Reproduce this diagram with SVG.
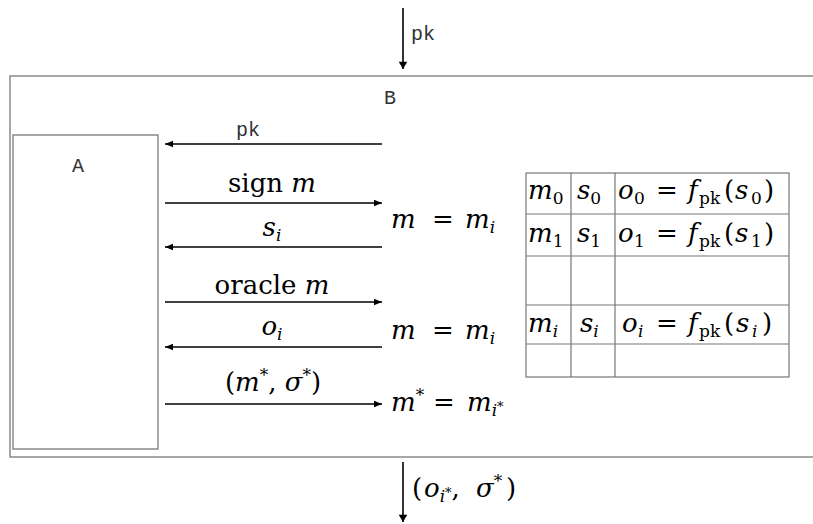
<svg xmlns="http://www.w3.org/2000/svg" width="813" height="524" viewBox="0 0 813 524">
<style>
.box{fill:none;stroke:#8a8a8a;stroke-width:1.5}
.grid{stroke:#777;stroke-width:1.2;fill:none}
.arr{stroke:#000;stroke-width:1.6;fill:none}
.mono{font-family:"Liberation Mono","Courier New",monospace;font-size:20px;fill:#333}
.m{font-family:"DejaVu Serif","Liberation Serif",serif;font-size:26px;fill:#000}
.i{font-style:italic}
.s{font-size:17px}
.ss{font-size:13px}
</style>
<defs>
<marker id="ah" viewBox="0 0 10 10" refX="10" refY="5" markerWidth="10" markerHeight="8" markerUnits="userSpaceOnUse" orient="auto">
<path d="M0,1 L10,5 L0,9 z" fill="#000"/>
</marker>
<marker id="ahv" viewBox="0 0 10 14" refX="10" refY="7" markerWidth="14" markerHeight="10" markerUnits="userSpaceOnUse" orient="auto">
<path d="M0,1 L10,7 L0,13 z" fill="#000"/>
</marker>
</defs>

<g id="B">
<path class="box" d="M813,76 H10 V457 H813"/>
<text class="mono" x="384" y="104">B</text>
</g>

<g id="A">
<rect class="box" x="13" y="135" width="145" height="314"/>
<text class="mono" x="72" y="172">A</text>
</g>

<g id="table">
<rect class="grid" x="526" y="173" width="263" height="204"/>
<path class="grid" d="M571,173 V377 M615,173 V377 M526,214 H789 M526,256 H789 M526,305 H789 M526,344 H789"/>
<text class="m" x="528" y="199"><tspan class="i">m</tspan><tspan class="s" dy="5">0</tspan></text>
<text class="m" x="577" y="199"><tspan class="i">s</tspan><tspan class="s" dy="5">0</tspan></text>
<text class="m" y="199"><tspan class="i" x="618">o</tspan><tspan class="s" x="634" dy="5">0</tspan><tspan dy="-5" x="656">=</tspan><tspan class="i" x="688">f</tspan><tspan class="s" x="699" dy="5">pk</tspan><tspan dy="-5" x="724">(</tspan><tspan class="i" x="735">s</tspan><tspan class="s" x="751" dy="5">0</tspan><tspan dy="-5" x="764">)</tspan></text>
<text class="m" x="528" y="242"><tspan class="i">m</tspan><tspan class="s" dy="5">1</tspan></text>
<text class="m" x="577" y="242"><tspan class="i">s</tspan><tspan class="s" dy="5">1</tspan></text>
<text class="m" y="242"><tspan class="i" x="618">o</tspan><tspan class="s" x="634" dy="5">1</tspan><tspan dy="-5" x="656">=</tspan><tspan class="i" x="688">f</tspan><tspan class="s" x="699" dy="5">pk</tspan><tspan dy="-5" x="724">(</tspan><tspan class="i" x="735">s</tspan><tspan class="s" x="751" dy="5">1</tspan><tspan dy="-5" x="764">)</tspan></text>
<text class="m" x="528" y="332"><tspan class="i">m</tspan><tspan class="s i" dy="5">i</tspan></text>
<text class="m" x="580" y="332"><tspan class="i">s</tspan><tspan class="s i" dy="5">i</tspan></text>
<text class="m" y="332"><tspan class="i" x="622">o</tspan><tspan class="s i" x="638" dy="5">i</tspan><tspan dy="-5" x="656">=</tspan><tspan class="i" x="688">f</tspan><tspan class="s" x="699" dy="5">pk</tspan><tspan dy="-5" x="724">(</tspan><tspan class="i" x="736">s</tspan><tspan class="s i" x="752" dy="5">i</tspan><tspan dy="-5" x="762">)</tspan></text>
</g>

<g id="connectors">
<line class="arr" x1="403" y1="8" x2="403" y2="69" marker-end="url(#ahv)"/>
<line class="arr" x1="382" y1="144" x2="165" y2="144" marker-end="url(#ah)"/>
<line class="arr" x1="165" y1="203" x2="382" y2="203" marker-end="url(#ah)"/>
<line class="arr" x1="382" y1="247" x2="165" y2="247" marker-end="url(#ah)"/>
<line class="arr" x1="165" y1="302" x2="382" y2="302" marker-end="url(#ah)"/>
<line class="arr" x1="382" y1="347" x2="165" y2="347" marker-end="url(#ah)"/>
<line class="arr" x1="165" y1="404" x2="382" y2="404" marker-end="url(#ah)"/>
<line class="arr" x1="403" y1="462" x2="403" y2="522" marker-end="url(#ahv)"/>
</g>

<g id="labels">
<text class="mono" x="411" y="40">pk</text>
<text class="mono" x="236" y="136">pk</text>
<text class="m" x="272" y="192" text-anchor="middle">sign <tspan class="i">m</tspan></text>
<text class="m" x="272" y="236" text-anchor="middle"><tspan class="i">s</tspan><tspan class="s i" dy="5">i</tspan></text>
<text class="m" x="272" y="294" text-anchor="middle">oracle <tspan class="i">m</tspan></text>
<text class="m" x="272" y="335" text-anchor="middle"><tspan class="i">o</tspan><tspan class="s i" dy="5">i</tspan></text>
<text class="m" x="273" y="391" text-anchor="middle">(<tspan class="i">m</tspan><tspan class="s" dy="-10">*</tspan><tspan dy="10">, </tspan><tspan class="i">σ</tspan><tspan class="s" dy="-10">*</tspan><tspan dy="10">)</tspan></text>
<text class="m" y="228"><tspan class="i" x="391">m</tspan><tspan x="432">=</tspan><tspan class="i" x="465">m</tspan><tspan class="s i" dy="5">i</tspan></text>
<text class="m" y="339"><tspan class="i" x="391">m</tspan><tspan x="432">=</tspan><tspan class="i" x="465">m</tspan><tspan class="s i" dy="5">i</tspan></text>
<text class="m" y="411"><tspan class="i" x="391">m</tspan><tspan class="s" dy="-10">*</tspan><tspan dy="10" x="433">=</tspan><tspan class="i" x="467">m</tspan><tspan class="s i" dy="5">i</tspan><tspan class="ss" dy="-5">*</tspan></text>
<text class="m" y="497"><tspan x="412">(</tspan><tspan class="i" x="424">o</tspan><tspan class="s i" dy="5">i</tspan><tspan class="ss" dy="-5">*</tspan><tspan dy="0">,</tspan><tspan class="i" x="476">σ</tspan><tspan class="s" dy="-10">*</tspan><tspan dy="10" x="506">)</tspan></text>
</g>
</svg>
